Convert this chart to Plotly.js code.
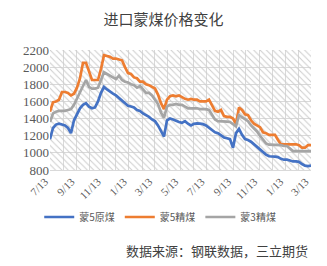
<!DOCTYPE html>
<html>
<head>
<meta charset="utf-8">
<script src="https://cdn.plot.ly/plotly-3.0.1.min.js"></script>
<style>html,body{margin:0;padding:0;background:#fff;}#chart{width:327px;height:266px;}</style>
</head>
<body>
<div id="chart"></div>
<script>
const dates = [
'2021-07-13','2021-07-20','2021-07-27','2021-08-03','2021-08-10','2021-08-17','2021-08-24','2021-08-31',
'2021-09-07','2021-09-14','2021-09-21','2021-09-28','2021-10-05','2021-10-12','2021-10-19','2021-10-26',
'2021-11-02','2021-11-09','2021-11-16','2021-11-23','2021-11-30','2021-12-07','2021-12-14','2021-12-21',
'2021-12-28','2022-01-04','2022-01-11','2022-01-18','2022-01-25','2022-02-01','2022-02-08','2022-02-15',
'2022-02-22','2022-03-01','2022-03-08','2022-03-15','2022-03-22','2022-03-29','2022-04-05','2022-04-12',
'2022-04-19','2022-04-26','2022-05-03','2022-05-10','2022-05-17','2022-05-24','2022-05-31','2022-06-07',
'2022-06-14','2022-06-21','2022-06-28','2022-07-05','2022-07-12','2022-07-19','2022-07-26','2022-08-02',
'2022-08-09','2022-08-16','2022-08-23','2022-08-30','2022-09-06','2022-09-13','2022-09-20','2022-09-27',
'2022-10-04','2022-10-11','2022-10-18','2022-10-25','2022-11-01','2022-11-08','2022-11-15','2022-11-22',
'2022-11-29','2022-12-06','2022-12-13','2022-12-20','2022-12-27','2023-01-03','2023-01-10','2023-01-17',
'2023-01-24','2023-01-31','2023-02-07','2023-02-14','2023-02-21','2023-02-28','2023-03-07','2023-03-14'
];

const seriesNames = ['蒙5原煤', '蒙5精煤', '蒙3精煤'];

const meng5Raw = [
1160,1290,1330,1340,1330,1320,1290,1230,1380,1460,1520,1560,1580,1540,1520,1530,
1600,1700,1770,1740,1710,1690,1670,1640,1600,1580,1550,1540,1530,1500,1490,1460,
1440,1420,1390,1370,1320,1250,1190,1380,1400,1390,1370,1360,1350,1370,1340,1320,
1340,1345,1340,1335,1320,1290,1260,1240,1230,1200,1180,1170,1160,1060,1230,1280,
1210,1160,1150,1130,1100,1070,1030,1000,980,960,960,955,950,930,920,920,
910,900,900,895,870,850,845,850
];

const meng5Washed = [
1480,1590,1600,1620,1710,1710,1700,1670,1690,1760,1870,2050,2050,1950,1850,1850,
1850,1980,2140,2130,2120,2100,2100,2090,2080,2000,1930,1920,1880,1870,1830,1830,
1800,1790,1770,1750,1680,1580,1510,1620,1660,1670,1660,1670,1650,1630,1620,1630,
1620,1620,1600,1600,1600,1620,1550,1490,1480,1500,1430,1420,1420,1400,1340,1530,
1500,1450,1440,1380,1340,1320,1300,1240,1230,1210,1210,1210,1150,1100,1100,1100,
1100,1100,1100,1090,1060,1060,1090,1090
];

const meng3Washed = [
1360,1460,1480,1490,1490,1490,1500,1510,1560,1640,1700,1780,1850,1770,1750,1750,
1760,1850,1940,1920,1900,1880,1860,1900,1850,1830,1820,1800,1790,1760,1780,1740,
1700,1700,1670,1620,1570,1470,1410,1540,1560,1560,1570,1560,1560,1540,1520,1520,
1520,1520,1510,1510,1510,1500,1450,1390,1370,1370,1365,1365,1360,1330,1310,1440,
1420,1390,1370,1320,1290,1250,1200,1160,1110,1095,1095,1095,1095,1090,1080,1080,
1050,1020,1020,1020,1020,1020,1020,1020
];

const seriesColors = ['#4472C4', '#ED7D31', '#A5A5A5'];
const titleText = '进口蒙煤价格变化';
const sourceText = '数据来源：钢联数据，三立期货';

const xRange = [dates[0], dates[dates.length - 1]];
const yRange = [800, 2200];

// hatched plot-area background (decoration), spanning exactly the axis ranges
const t0 = new Date(xRange[0] + 'T00:00:00Z').getTime();
const t1 = new Date(xRange[1] + 'T00:00:00Z').getTime();
const hatchTrace = {
  type: 'bar',
  x: [new Date((t0 + t1) / 2).toISOString()],
  y: [yRange[1] - yRange[0]],
  base: [yRange[0]],
  width: [t1 - t0],
  marker: {
    color: '#cccccc',
    line: {width: 0},
    pattern: {shape: '\\', size: 4.5, solidity: 0.22, fillmode: 'replace'}
  },
  showlegend: false,
  hoverinfo: 'skip'
};

const valuesList = [meng5Raw, meng5Washed, meng3Washed];
const lineTraces = valuesList.map((vals, i) => ({
  type: 'scatter',
  mode: 'lines',
  x: dates,
  y: vals,
  name: seriesNames[i],
  line: {color: seriesColors[i], width: 2.7, shape: 'linear'},
  hoverinfo: 'skip'
}));

const layout = {
  width: 327,
  height: 266,
  margin: {l: 50, r: 16, t: 50, b: 96, pad: 0},
  paper_bgcolor: '#ffffff',
  plot_bgcolor: '#ffffff',
  title: {
    text: titleText,
    font: {family: '"Noto Sans CJK SC", sans-serif', size: 15, color: '#404040'},
    x: 0.5, xref: 'container', xanchor: 'center',
    y: 1 - 20 / 266, yref: 'container', yanchor: 'middle'
  },
  showlegend: true,
  legend: {
    orientation: 'h',
    x: 0.49, xref: 'container', xanchor: 'center',
    y: 1 - 217 / 266, yref: 'container', yanchor: 'middle',
    font: {family: '"Noto Sans CJK SC", sans-serif', size: 10, color: '#595959'},
    itemwidth: 30,
    tracegroupgap: 0,
    bgcolor: 'rgba(0,0,0,0)'
  },
  xaxis: {
    type: 'date',
    range: xRange,
    tick0: '2021-07-13',
    dtick: 'M2',
    tickformat: '%-m/%-d',
    tickangle: -45,
    ticks: '',
    ticklabelshift: -5,
    showgrid: true,
    gridcolor: '#d9d9d9',
    gridwidth: 1,
    minor: {dtick: 'M1', tick0: '2021-07-13', showgrid: true, gridcolor: '#d9d9d9', gridwidth: 1, ticks: ''},
    showline: true,
    linecolor: '#d9d9d9',
    linewidth: 1,
    zeroline: false,
    tickfont: {family: '"Liberation Serif", "Times New Roman", serif', size: 11, color: '#595959'},
    fixedrange: true
  },
  yaxis: {
    range: yRange,
    dtick: 200,
    tick0: 800,
    ticks: '',
    showgrid: true,
    gridcolor: '#d9d9d9',
    gridwidth: 1,
    zeroline: false,
    showline: false,
    tickfont: {family: '"Liberation Serif", "Times New Roman", serif', size: 13, color: '#595959'},
    fixedrange: true
  },
  annotations: [{
    text: sourceText,
    xref: 'paper', yref: 'paper',
    x: 0.997, y: (170 - 250.5) / 120,
    xanchor: 'right', yanchor: 'middle',
    showarrow: false,
    font: {family: '"Noto Sans CJK SC", sans-serif', size: 13, color: '#404040'}
  }]
};

Plotly.newPlot('chart', [hatchTrace].concat(lineTraces), layout, {displayModeBar: false, staticPlot: true});
</script>
</body>
</html>
